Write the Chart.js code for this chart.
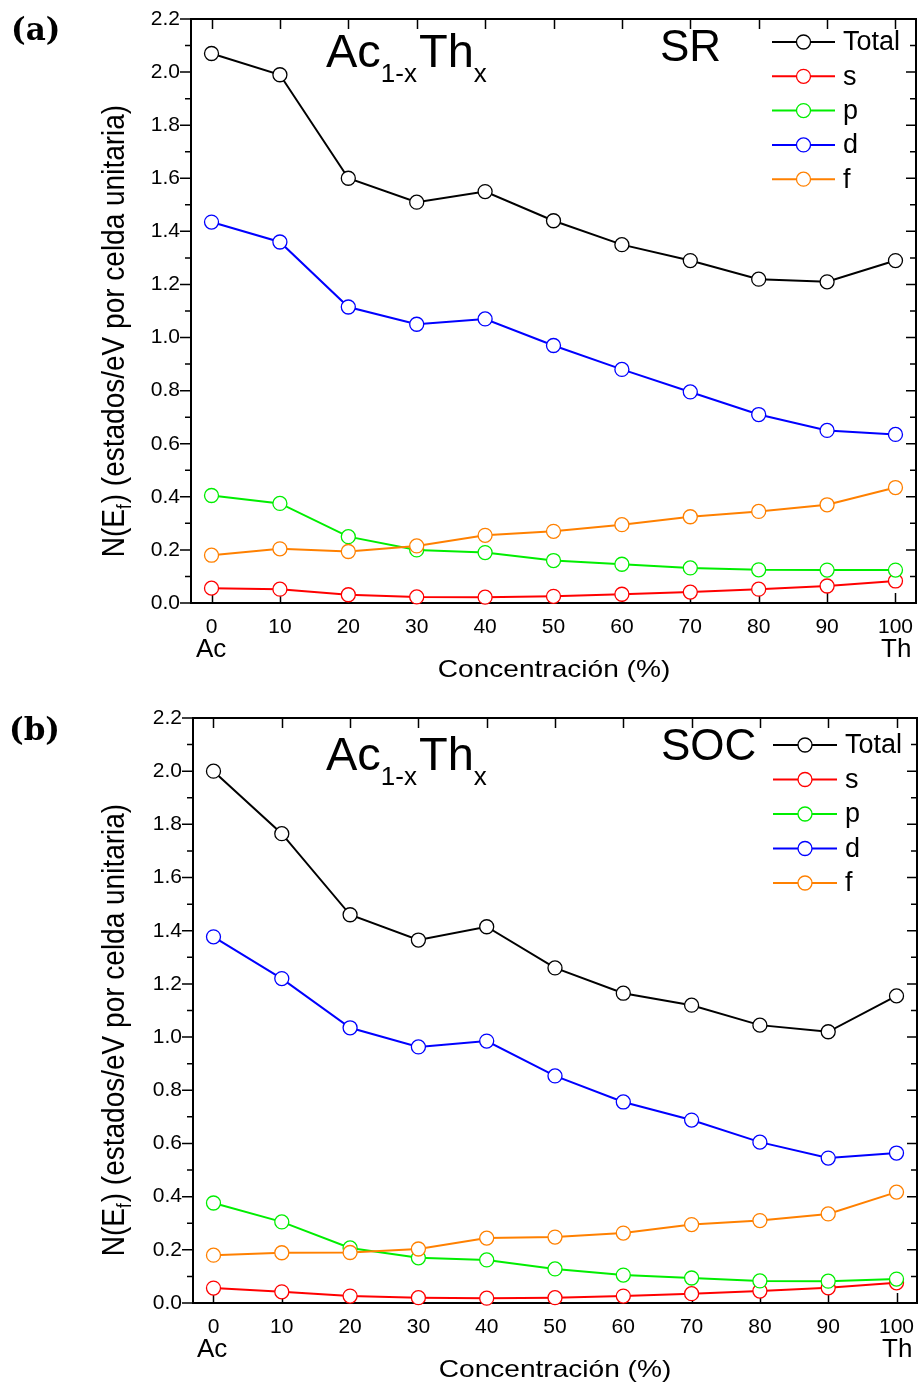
<!DOCTYPE html>
<html>
<head>
<meta charset="utf-8">
<title>Ac1-xThx N(Ef)</title>
<script src="https://cdn.jsdelivr.net/npm/chart.js@4.4.1/dist/chart.umd.min.js"></script>
<style>
  body { margin: 0; background: #fff; }
  .panel { position: relative; width: 918px; height: 693px; }
  canvas { display: block; }
</style>
</head>
<body>
<div class="panel"><canvas id="chartSR" width="918" height="693"></canvas></div>
<div class="panel"><canvas id="chartSOC" width="918" height="693"></canvas></div>
<script>
// Th concentration (%) in Ac(1-x)Th(x)
const concentration = [0, 10, 20, 30, 40, 50, 60, 70, 80, 90, 100];
const xTicks = [0, 10, 20, 30, 40, 50, 60, 70, 80, 90, 100];

// N(Ef), scalar relativistic (SR)
const totalSR = [2.07, 1.99, 1.60, 1.51, 1.55, 1.44, 1.35, 1.29, 1.22, 1.21, 1.29];
const sSR = [0.056, 0.052, 0.031, 0.023, 0.022, 0.025, 0.033, 0.041, 0.052, 0.064, 0.083];
const pSR = [0.405, 0.375, 0.25, 0.20, 0.19, 0.16, 0.146, 0.132, 0.125, 0.124, 0.124];
const dSR = [1.435, 1.36, 1.115, 1.05, 1.07, 0.97, 0.88, 0.795, 0.71, 0.65, 0.635];
const fSR = [0.18, 0.204, 0.194, 0.215, 0.255, 0.27, 0.295, 0.325, 0.345, 0.37, 0.435];

// N(Ef), with spin-orbit coupling (SOC)
const totalSOC = [2.0, 1.765, 1.46, 1.365, 1.415, 1.26, 1.165, 1.12, 1.045, 1.02, 1.155];
const sSOC = [0.056, 0.042, 0.026, 0.02, 0.018, 0.02, 0.026, 0.035, 0.045, 0.057, 0.076];
const pSOC = [0.376, 0.305, 0.207, 0.17, 0.162, 0.128, 0.105, 0.094, 0.083, 0.082, 0.09];
const dSOC = [1.377, 1.22, 1.035, 0.963, 0.985, 0.854, 0.756, 0.688, 0.605, 0.545, 0.564];
const fSOC = [0.18, 0.189, 0.19, 0.203, 0.244, 0.248, 0.263, 0.295, 0.31, 0.335, 0.417];

const seriesLabels = ["Total", "s", "p", "d", "f"];
const seriesColors = ["#000000", "#ff0000", "#00ee00", "#0000ff", "#ff8000"];

const SANS = "'Liberation Sans', Arial, sans-serif";
Chart.defaults.font.family = SANS;
Chart.defaults.color = "#000";

// box, inward ticks on right/top/bottom, outward ticks on the left
const framePlugin = {
  id: "frame",
  beforeDatasetsDraw(chart) {
    const { ctx, chartArea: a, scales: { x, y } } = chart;
    ctx.save();
    ctx.strokeStyle = "#000";
    ctx.lineWidth = 1.5;
    ctx.beginPath();
    x.ticks.forEach((t) => {
      const px = Math.round(x.getPixelForValue(t.value)) + 0.5;
      ctx.moveTo(px, a.bottom); ctx.lineTo(px, a.bottom - 10);
      ctx.moveTo(px, a.top); ctx.lineTo(px, a.top + 10);
    });
    const yv = y.ticks.map((t) => t.value);
    yv.forEach((v, i) => {
      const py = y.getPixelForValue(v);
      ctx.moveTo(a.left, py); ctx.lineTo(a.left - 11, py);
      ctx.moveTo(a.right, py); ctx.lineTo(a.right - 10, py);
      if (i < yv.length - 1) {
        const pm = y.getPixelForValue((v + yv[i + 1]) / 2);
        ctx.moveTo(a.left, pm); ctx.lineTo(a.left - 6, pm);
        ctx.moveTo(a.right, pm); ctx.lineTo(a.right - 6, pm);
      }
    });
    ctx.stroke();
    ctx.lineWidth = 2;
    ctx.strokeRect(a.left, a.top, a.right - a.left, a.bottom - a.top);
    ctx.restore();
  },
};

function stretchedText(ctx, text, x, y, sx) {
  ctx.save();
  ctx.translate(x, y);
  ctx.scale(sx, 1);
  ctx.fillText(text, 0, 0);
  ctx.restore();
}

const panelTextPlugin = {
  id: "panelText",
  afterDraw(chart, args, o) {
    const ctx = chart.ctx;
    ctx.save();
    ctx.fillStyle = "#000";
    ctx.textBaseline = "alphabetic";
    ctx.textAlign = "left";

    // panel tag
    ctx.font = "bold 31px 'DejaVu Serif', serif";
    ctx.fillText(o.tag, o.tagX, o.tagY);

    // compound name with subscripts
    let tx = o.titleX;
    [["Ac", false], ["1-x", true], ["Th", false], ["x", true]].forEach(([s, sub]) => {
      ctx.font = (sub ? "26px " : "47px ") + SANS;
      ctx.fillText(s, tx, o.titleY + (sub ? 15 : 0));
      tx += ctx.measureText(s).width + (sub ? 2 : 0);
    });

    ctx.font = "44px " + SANS;
    ctx.fillText(o.method, o.methodX, o.methodY);

    // end-member names under the axis
    ctx.font = "26px " + SANS;
    ctx.fillText("Ac", o.acX, o.endY);
    ctx.fillText("Th", o.thX, o.endY);

    // x axis title
    ctx.font = "24px " + SANS;
    ctx.textAlign = "center";
    stretchedText(ctx, "Concentración (%)", o.xTitleX, o.xTitleY, 1.17);

    // y axis title, rotated, with subscript f
    ctx.textAlign = "left";
    ctx.translate(o.yTitleX, o.yTitleY);
    ctx.rotate(-Math.PI / 2);
    ctx.scale(1, 1.15);
    const bigFont = "28px " + SANS, smallFont = "17px " + SANS;
    const p1 = "N(E", p2 = "f", p3 = ") (estados/eV por celda unitaria)";
    ctx.font = bigFont;
    const w1 = ctx.measureText(p1).width, w3 = ctx.measureText(p3).width;
    ctx.font = smallFont;
    const w2 = ctx.measureText(p2).width + 1;
    let sx = -(w1 + w2 + w3) / 2;
    ctx.font = bigFont;
    ctx.fillText(p1, sx, 0);
    ctx.font = smallFont;
    ctx.fillText(p2, sx + w1, 6);
    ctx.font = bigFont;
    ctx.fillText(p3, sx + w1 + w2, 0);
    ctx.restore();

    // legend: line with open circle
    ctx.save();
    chart.data.datasets.forEach((ds, i) => {
      const ry = o.legY + i * o.legStep;
      ctx.strokeStyle = ds.borderColor;
      ctx.lineWidth = 2;
      ctx.beginPath();
      ctx.moveTo(o.legX1, ry); ctx.lineTo(o.legX2, ry);
      ctx.stroke();
      ctx.beginPath();
      ctx.arc((o.legX1 + o.legX2) / 2, ry, 7, 0, Math.PI * 2);
      ctx.fillStyle = "#fff";
      ctx.fill();
      ctx.lineWidth = 1.3;
      ctx.stroke();
      ctx.fillStyle = "#000";
      ctx.font = "27px " + SANS;
      ctx.textBaseline = "middle";
      ctx.fillText(ds.label, o.legX2 + 8, ry + 1);
    });
    ctx.restore();
  },
};

// keep the plot box where the layout padding puts it
function noLabelPadding(s) {
  s.paddingLeft = 0; s.paddingRight = 0; s.paddingTop = 0; s.paddingBottom = 0;
}

function buildPanel(canvasId, values, pad, text) {
  const datasets = values.map((vals, i) => ({
    label: seriesLabels[i],
    data: concentration.map((c, k) => ({ x: c, y: vals[k] })),
    borderColor: seriesColors[i],
    backgroundColor: "#ffffff",
    borderWidth: 2,
    pointRadius: 7,
    pointBorderWidth: 1.3,
    pointBackgroundColor: "#ffffff",
    pointBorderColor: seriesColors[i],
    tension: 0,
    clip: false,
    order: values.length - i,
  }));

  return new Chart(document.getElementById(canvasId), {
    type: "line",
    data: { datasets },
    options: {
      responsive: false,
      animation: false,
      layout: { padding: pad, autoPadding: false },
      plugins: {
        legend: { display: false },
        tooltip: { enabled: false },
        panelText: text,
      },
      scales: {
        x: {
          type: "linear",
          min: -3,
          max: 103,
          afterBuildTicks: (s) => { s.ticks = xTicks.map((v) => ({ value: v })); },
          afterFit: (s) => { s.height = 80; noLabelPadding(s); },
          grid: { display: false, drawTicks: false },
          border: { display: false },
          ticks: { font: { size: 21 }, padding: 12, maxRotation: 0, callback: (v) => v },
        },
        y: {
          min: 0,
          max: 2.2,
          afterFit: (s) => { s.width = 60; noLabelPadding(s); },
          grid: { display: false, drawTicks: false },
          border: { display: false },
          ticks: { stepSize: 0.2, font: { size: 21 }, padding: 11, callback: (v) => v.toFixed(1) },
        },
      },
    },
    plugins: [framePlugin, panelTextPlugin],
  });
}

buildPanel("chartSR", [totalSR, sSR, pSR, dSR, fSR],
  { left: 131, top: 19, right: 2, bottom: 10 },
  {
    tag: "(a)", tagX: 11, tagY: 40,
    titleX: 326, titleY: 67,
    method: "SR", methodX: 660, methodY: 61,
    acX: 196, thX: 881, endY: 657,
    xTitleX: 554, xTitleY: 677,
    yTitleX: 124, yTitleY: 331,
    legX1: 772, legX2: 835, legY: 42, legStep: 34.3,
  });

buildPanel("chartSOC", [totalSOC, sSOC, pSOC, dSOC, fSOC],
  { left: 133, top: 25, right: 1, bottom: 3 },
  {
    tag: "(b)", tagX: 9, tagY: 47,
    titleX: 326, titleY: 77,
    method: "SOC", methodX: 661, methodY: 67,
    acX: 197, thX: 882, endY: 664,
    xTitleX: 555, xTitleY: 684,
    yTitleX: 124, yTitleY: 337,
    legX1: 773, legX2: 837, legY: 52, legStep: 34.5,
  });
</script>
</body>
</html>
